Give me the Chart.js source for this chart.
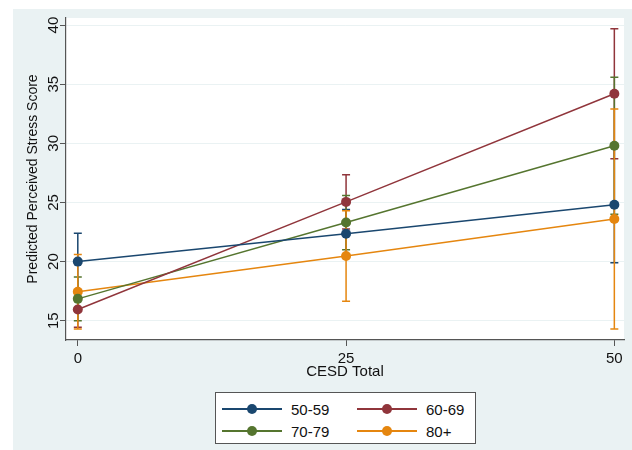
<!DOCTYPE html>
<html>
<head>
<meta charset="utf-8">
<script src="https://cdn.jsdelivr.net/npm/chart.js@4.4.1/dist/chart.umd.min.js"></script>
<style>
  body { margin: 0; background: #ffffff; }
  #wrap { position: relative; width: 632px; height: 450px; }
  #legend {
    position: absolute; left: 215px; top: 392px; width: 259px; height: 50px;
    border: 1.5px solid #555555; background: #ffffff;
    font-family: 'Liberation Sans', Arial, sans-serif; font-size: 15px; color: #111;
  }
  .item { position: absolute; display: flex; align-items: center; height: 20px; }
  .sym { position: relative; width: 60px; height: 20px; margin-right: 9px; }
  .sym .ln { position: absolute; left: 0; right: 0; top: 9px; height: 1.5px; }
  .sym .dot { position: absolute; left: 25px; top: 5px; width: 10px; height: 10px; border-radius: 50%; }
</style>
</head>
<body>
<div id="wrap">
  <canvas id="main-chart" width="632" height="450"></canvas>
  <div id="legend"></div>
</div>
<script>
const cesd = [0, 25, 50];
const groups = ['50-59', '60-69', '70-79', '80+'];
const colors = ['#1a476f', '#90353b', '#55752f', '#e5860f'];

const pred5059 = [20.0, 22.35, 24.8];
const low5059 = [17.6, 20.3, 19.9];
const high5059 = [22.4, 24.4, 29.7];

const pred6069 = [15.95, 25.05, 34.2];
const low6069 = [14.45, 22.75, 28.7];
const high6069 = [17.45, 27.35, 39.7];

const pred7079 = [16.85, 23.3, 29.8];
const low7079 = [15.0, 21.0, 24.0];
const high7079 = [18.7, 25.6, 35.6];

const pred80 = [17.45, 20.47, 23.6];
const low80 = [14.3, 16.65, 14.3];
const high80 = [20.6, 24.3, 32.9];

const yTicks = [15, 20, 25, 30, 35, 40];
const xTicks = [0, 25, 50];

const preds = [pred5059, pred6069, pred7079, pred80];
const lows = [low5059, low6069, low7079, low80];
const highs = [high5059, high6069, high7079, high80];

const font = { family: "'Liberation Sans', Arial, sans-serif", size: 14 };
const tickFont = { family: "'Liberation Sans', Arial, sans-serif", size: 15 };

const background = {
  id: 'background',
  beforeDraw(chart) {
    const { ctx, chartArea: a } = chart;
    ctx.save();
    ctx.fillStyle = '#ffffff';
    ctx.fillRect(0, 0, chart.width, chart.height);
    ctx.fillStyle = '#eaf2f3';
    ctx.fillRect(13, 9, chart.width - 13, chart.height - 9);
    ctx.fillStyle = '#ffffff';
    ctx.fillRect(a.left, a.top, a.right - a.left, a.bottom - a.top);
    ctx.restore();
  },
};

// confidence interval caps, drawn under the lines and markers
const errorBars = {
  id: 'errorBars',
  beforeDatasetsDraw(chart) {
    const { ctx, scales } = chart;
    ctx.save();
    chart.data.datasets.forEach((ds, i) => {
      ctx.strokeStyle = ds.borderColor;
      ctx.lineWidth = 1.5;
      cesd.forEach((x, j) => {
        const px = scales.x.getPixelForValue(x);
        const lo = scales.y.getPixelForValue(lows[i][j]);
        const hi = scales.y.getPixelForValue(highs[i][j]);
        ctx.beginPath();
        ctx.moveTo(px, lo); ctx.lineTo(px, hi);
        ctx.moveTo(px - 4, lo); ctx.lineTo(px + 4, lo);
        ctx.moveTo(px - 4, hi); ctx.lineTo(px + 4, hi);
        ctx.stroke();
      });
    });
    ctx.restore();
  },
};

const ctx = document.getElementById('main-chart');
const chart = new Chart(ctx, {
  type: 'line',
  data: {
    datasets: groups.map((g, i) => ({
      label: g,
      data: cesd.map((x, j) => ({ x: x, y: preds[i][j] })),
      borderColor: colors[i],
      backgroundColor: colors[i],
      borderWidth: 1.5,
      pointRadius: 5,
      pointHoverRadius: 5,
      pointBorderWidth: 0,
      tension: 0,
    })),
  },
  options: {
    animation: false,
    responsive: false,
    layout: { padding: { left: 13, top: 18, right: 8, bottom: 65 } },
    plugins: {
      legend: { display: false },
      tooltip: { enabled: false },
    },
    scales: {
      x: {
        type: 'linear',
        min: -1.1,
        max: 50.9,
        afterBuildTicks: (s) => { s.ticks = xTicks.map((v) => ({ value: v })); },
        afterFit: (s) => { s.height = 45; },
        grid: { drawOnChartArea: false, drawTicks: true, tickLength: 6, tickColor: '#555555' },
        border: { display: true, color: '#555555', width: 1.2 },
        ticks: { color: '#111', font: tickFont, padding: 4, maxRotation: 0 },
        title: { display: true, text: 'CESD Total', color: '#111', font: tickFont, padding: { top: 3 } },
      },
      y: {
        type: 'linear',
        min: 13.37,
        max: 40.6,
        afterBuildTicks: (s) => { s.ticks = yTicks.map((v) => ({ value: v })); },
        afterFit: (s) => { s.width = 53; },
        grid: { color: '#eaf2f3', lineWidth: 1, drawTicks: true, tickLength: 6, tickColor: '#555555' },
        border: { display: true, color: '#555555', width: 1.2 },
        ticks: { color: '#111', font: tickFont, padding: -2, minRotation: 90, maxRotation: 90, crossAlign: 'center' },
        title: { display: true, text: 'Predicted Perceived Stress Score', color: '#111', font: font, padding: { top: 12, bottom: 0 } },
      },
    },
  },
  plugins: [background, errorBars],
});

const legend = document.getElementById('legend');
chart.data.datasets.forEach((ds, i) => {
  const item = document.createElement('div');
  item.className = 'item';
  item.style.left = (6 + (i % 2) * 135) + 'px';
  item.style.top = (6 + Math.floor(i / 2) * 22) + 'px';
  item.innerHTML = '<div class="sym"><div class="ln" style="background:' + ds.borderColor +
    '"></div><div class="dot" style="background:' + ds.borderColor + '"></div></div><span>' + ds.label + '</span>';
  legend.appendChild(item);
});
</script>
</body>
</html>
